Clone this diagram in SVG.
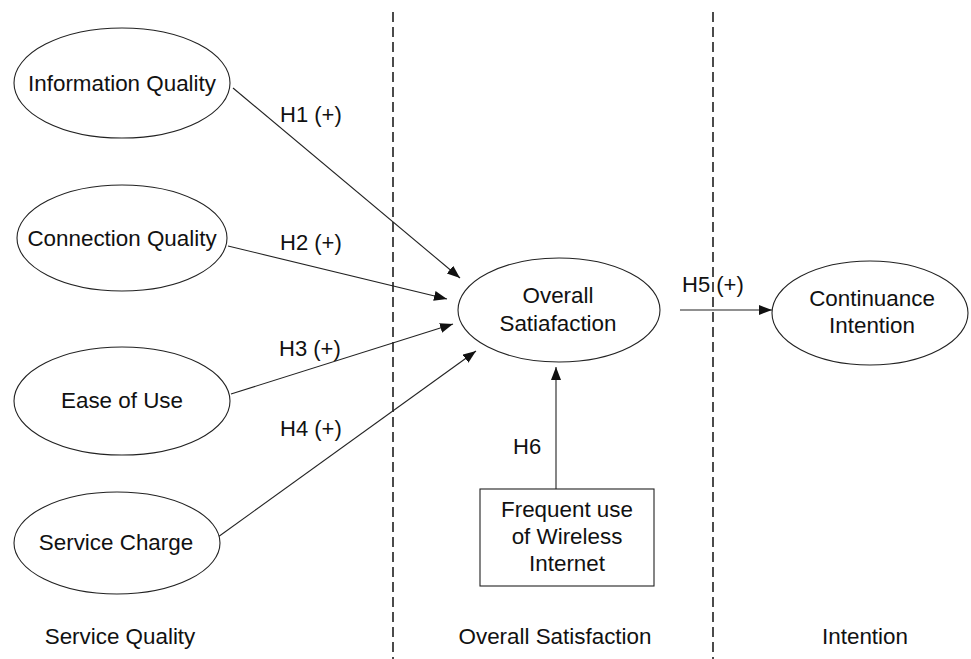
<svg xmlns="http://www.w3.org/2000/svg" width="971" height="659" viewBox="0 0 971 659">
<style>
.node{fill:#fff;stroke:#222;stroke-width:1.1}
.t{font-family:"Liberation Sans",Arial,sans-serif;font-size:22.4px;fill:#111;text-anchor:middle}
.lbl{font-family:"Liberation Sans",Arial,sans-serif;font-size:22px;fill:#111}
.e{stroke:#222;stroke-width:1.1;fill:none;marker-end:url(#ah)}
.div{stroke:#111;stroke-width:1.5;stroke-dasharray:10,5;fill:none}
</style>
<defs>
<marker id="ah" markerUnits="userSpaceOnUse" markerWidth="14" markerHeight="12" refX="13" refY="5" orient="auto">
<path d="M0,0 L13,5 L0,10 Z" fill="#111"/>
</marker>
</defs>
<rect width="971" height="659" fill="#fff"/>
<g id="dividers">
<line class="div" x1="393" y1="12" x2="393" y2="659"/>
<line class="div" x1="713" y1="12" x2="713" y2="659"/>
</g>
<g id="connectors">
<line class="e" x1="233" y1="88" x2="460" y2="278"/>
<line class="e" x1="228" y1="246" x2="447" y2="299"/>
<line class="e" x1="231" y1="394" x2="453" y2="324"/>
<line class="e" x1="218" y1="537" x2="476" y2="351"/>
<line class="e" x1="680" y1="310" x2="772" y2="310"/>
<line class="e" x1="556" y1="489" x2="556" y2="367"/>
<text class="lbl" x="280" y="122">H1 (+)</text>
<text class="lbl" x="280" y="250">H2 (+)</text>
<text class="lbl" x="279" y="356">H3 (+)</text>
<text class="lbl" x="280" y="436">H4 (+)</text>
<text class="lbl" x="682" y="292">H5 (+)</text>
<text class="lbl" x="513" y="454">H6</text>
</g>
<g id="info-quality">
<ellipse class="node" cx="122" cy="83" rx="108" ry="55"/>
<text class="t" x="122" y="91">Information Quality</text>
</g>
<g id="connection-quality">
<ellipse class="node" cx="122" cy="238" rx="105" ry="53"/>
<text class="t" x="122" y="246">Connection Quality</text>
</g>
<g id="ease-of-use">
<ellipse class="node" cx="122" cy="401" rx="108" ry="54"/>
<text class="t" x="122" y="408">Ease of Use</text>
</g>
<g id="service-charge">
<ellipse class="node" cx="117" cy="543" rx="103" ry="51"/>
<text class="t" x="116" y="550">Service Charge</text>
</g>
<g id="overall-satisfaction">
<ellipse class="node" cx="559" cy="310" rx="101" ry="52"/>
<text class="t" x="558" y="303">Overall</text>
<text class="t" x="558" y="331">Satiafaction</text>
</g>
<g id="continuance-intention">
<ellipse class="node" cx="870" cy="313" rx="98" ry="52"/>
<text class="t" x="872" y="306">Continuance</text>
<text class="t" x="872" y="333">Intention</text>
</g>
<g id="frequent-use">
<rect class="node" x="480" y="489" width="174" height="97"/>
<text class="t" x="567" y="517">Frequent use</text>
<text class="t" x="567" y="544">of Wireless</text>
<text class="t" x="567" y="571">Internet</text>
</g>
<g id="section-labels">
<text class="t" x="120" y="644">Service Quality</text>
<text class="t" x="555" y="644">Overall Satisfaction</text>
<text class="t" x="865" y="644">Intention</text>
</g>
</svg>
